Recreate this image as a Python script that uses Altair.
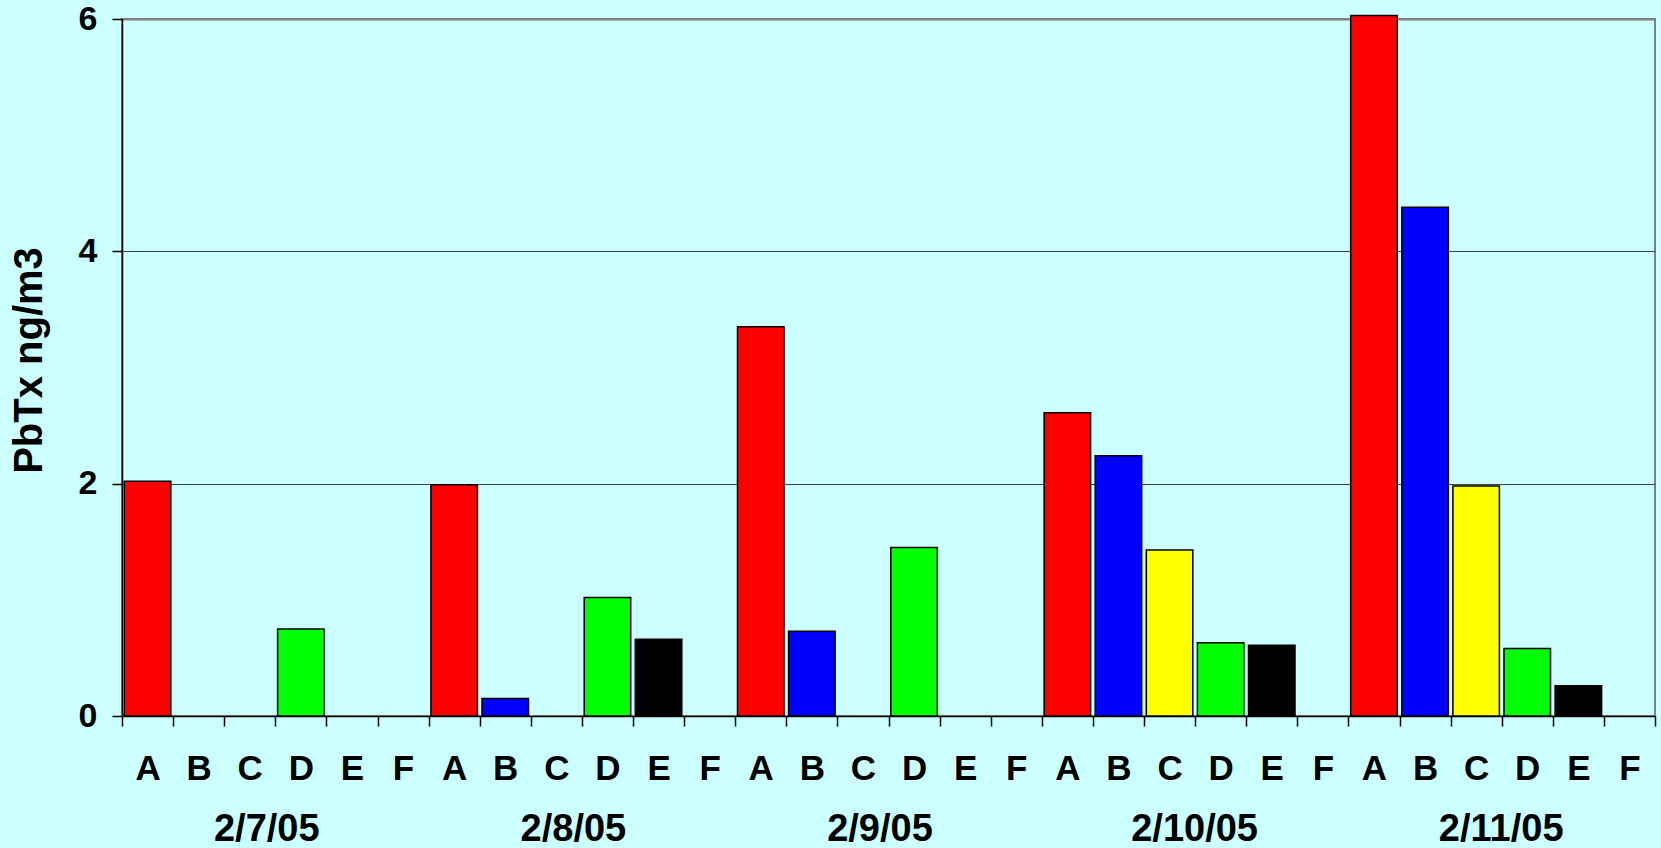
import altair as alt
import pandas as pd

# Sampling dates and sites
dates = ["2/7/05", "2/8/05", "2/9/05", "2/10/05", "2/11/05"]
sites = ["A", "B", "C", "D", "E", "F"]
site_colors = ["#FF0000", "#0000FF", "#FFFF00", "#00FF00", "#000000", "#FFFFFF"]

# PbTx concentration (ng/m3) per site, one value per date
site_a = [2.02, 1.99, 3.35, 2.61, 6.03]
site_b = [0.0, 0.15, 0.73, 2.24, 4.38]
site_c = [0.0, 0.0, 0.0, 1.43, 1.98]
site_d = [0.75, 1.02, 1.45, 0.63, 0.58]
site_e = [0.0, 0.66, 0.0, 0.61, 0.26]
site_f = [0.0, 0.0, 0.0, 0.0, 0.0]

series = [site_a, site_b, site_c, site_d, site_e, site_f]

rows = []
for di, d in enumerate(dates):
    for si, s in enumerate(sites):
        rows.append({"date": d, "site": s, "slot": di * 6 + si, "value": series[si][di]})
df = pd.DataFrame(rows)

FONT = "Liberation Sans"
slots = list(range(len(dates) * len(sites)))

bars = (
    alt.Chart(df)
    .transform_filter("datum.value > 0")
    .mark_bar(width={"band": 0.91}, stroke="black", strokeWidth=1.5)
    .encode(
        x=alt.X(
            "slot:O",
            scale=alt.Scale(domain=slots, paddingInner=0, paddingOuter=0),
            axis=alt.Axis(
                title=None,
                labelExpr="['A','B','C','D','E','F'][datum.value % 6]",
                labelAngle=0,
                labelFont=FONT,
                labelFontSize=35,
                labelFontWeight="bold",
                labelColor="black",
                labelPadding=25,
                tickBand="extent",
                tickSize=10,
                tickColor="black",
                tickWidth=1.5,
                domainColor="black",
                domainWidth=1.5,
                grid=False,
            ),
        ),
        y=alt.Y(
            "value:Q",
            scale=alt.Scale(domain=[0, 6], nice=False),
            axis=alt.Axis(
                title="PbTx ng/m3",
                titleFont=FONT,
                titleFontSize=40,
                titleFontWeight="bold",
                titleColor="black",
                titlePadding=29,
                titleY=341,
                values=[0, 2, 4, 6],
                labelFont=FONT,
                labelFontSize=34,
                labelFontWeight="bold",
                labelColor="black",
                labelPadding=15,
                tickSize=10,
                tickColor="black",
                tickWidth=1.5,
                domainColor="black",
                domainWidth=1.5,
                grid=True,
                gridColor=alt.condition("datum.value === 6", alt.value("#808080"), alt.value("#404040")),
                gridWidth=alt.condition("datum.value === 6", alt.value(2), alt.value(1)),
            ),
        ),
        color=alt.Color("site:N", scale=alt.Scale(domain=sites, range=site_colors), legend=None),
    )
)

# Second bottom axis carrying the date under each group of six sites
date_axis = (
    alt.Chart(pd.DataFrame({"date": dates}))
    .mark_text(text=" ", opacity=0)
    .encode(
        x=alt.X(
            "date:N",
            sort=dates,
            scale=alt.Scale(domain=dates, paddingInner=0, paddingOuter=0),
            axis=alt.Axis(
                orient="bottom",
                title=None,
                offset=94,
                labelPadding=0,
                labelAngle=0,
                labelOffset=alt.condition(
                    "indexof(['2/7/05','2/8/05','2/9/05'], datum.value) >= 0",
                    alt.value(-9),
                    alt.value(-1),
                ),
                labelFont=FONT,
                labelFontSize=38,
                labelFontWeight="bold",
                labelColor="black",
                ticks=False,
                tickSize=0,
                domain=False,
                grid=False,
            ),
        )
    )
)

chart = (
    alt.layer(bars, date_axis)
    .resolve_scale(x="independent")
    .resolve_axis(x="independent")
    .properties(
        width=1533,
        height=697,
        autosize=alt.AutoSizeParams(type="none"),
        padding={"left": 122, "top": 19, "right": 6, "bottom": 132},
        background="#CCFFFF",
    )
    .configure_view(stroke="#808080", strokeWidth=2, fill="#CCFFFF")
)

chart.save("out.html", embed_options={"renderer": "svg", "actions": False})
